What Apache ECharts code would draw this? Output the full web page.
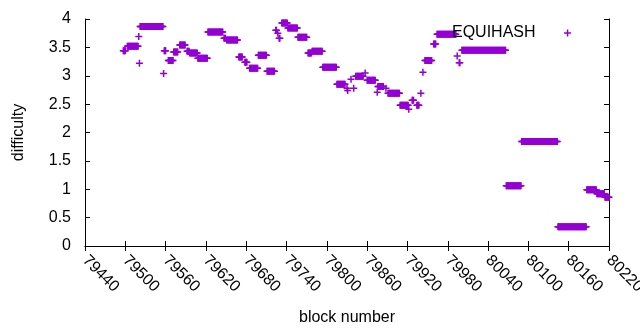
<!DOCTYPE html>
<html>
<head>
<meta charset="utf-8">
<script src="https://cdn.jsdelivr.net/npm/echarts@6/dist/echarts.min.js"></script>
<style>
  html, body { margin: 0; padding: 0; background: #fff; }
  #chart { width: 640px; height: 330px; }
</style>
</head>
<body>
<div id="chart"></div>
<script>
// runs of equal difficulty: first block, last block, value
const runStart = [79497, 79503, 79520, 79521, 79522, 79557, 79558, 79564, 79572, 79581,
  79592, 79596, 79608, 79623, 79647, 79651, 79669, 79678, 79685, 79698,
  79711, 79724, 79727, 79729, 79733, 79742, 79757, 79772, 79778, 79794,
  79815, 79830, 79831, 79836, 79840, 79843, 79857, 79860, 79875, 79876,
  79888, 79891, 79909, 79922, 79927, 79934, 79940, 79943, 79946, 79959,
  79964, 79994, 79997, 80001, 80067, 80090, 80144, 80187, 80202, 80214]
const runEnd = [79500, 79519, 79520, 79521, 79556, 79557, 79560, 79571, 79578, 79589,
  79595, 79607, 79622, 79645, 79649, 79667, 79674, 79681, 79697, 79710,
  79722, 79725, 79727, 79730, 79741, 79756, 79770, 79777, 79793, 79814,
  79827, 79830, 79831, 79836, 79840, 79854, 79857, 79872, 79875, 79884,
  79888, 79908, 79921, 79922, 79929, 79937, 79940, 79943, 79956, 79962,
  79992, 79994, 79998, 80066, 80089, 80143, 80186, 80201, 80213, 80220]
const runDifficulty = [3.44, 3.52, 3.69, 3.22, 3.87, 3.04, 3.44, 3.27, 3.42, 3.54,
  3.43, 3.40, 3.31, 3.77, 3.66, 3.63, 3.33, 3.24, 3.13, 3.36,
  3.08, 3.80, 3.75, 3.66, 3.93, 3.84, 3.68, 3.40, 3.43, 3.15,
  2.85, 2.78, 2.74, 2.94, 2.78, 2.99, 3.05, 2.92, 2.71, 2.81,
  2.78, 2.69, 2.48, 2.41, 2.57, 2.48, 2.69, 3.06, 3.27, 3.56,
  3.73, 3.35, 3.23, 3.45, 1.06, 1.84, 0.34, 0.99, 0.92, 0.86]

const seriesName = 'EQUIHASH'

// one point per block
const points = []
runStart.forEach((s, i) => {
  for (let b = s; b <= runEnd[i]; b++) points.push([b, runDifficulty[i]])
})

const plus = 'path://M2.75,0 h1.5 v2.75 h2.75 v1.5 h-2.75 v2.75 h-1.5 v-2.75 h-2.75 v-1.5 h2.75 Z'
const font = 'Liberation Sans, Arial, sans-serif'
const txt = { color: '#000', fontFamily: font, fontSize: 16 }

const axisBase = {
  axisLine: { show: true, lineStyle: { color: '#000', width: 1 } },
  axisTick: { show: true, inside: true, length: 5, lineStyle: { color: '#000' } },
  splitLine: { show: false }
}

const chart = echarts.init(document.getElementById('chart'), null, { renderer: 'canvas' })
chart.setOption({
  animation: false,
  backgroundColor: '#fff',
  grid: { left: 85, right: 31, top: 19, bottom: 84, outerBoundsMode: 'none', containLabel: false },
  legend: {
    data: [{ name: seriesName, icon: plus }],
    left: 447,
    top: 20,
    align: 'right',
    itemWidth: 54,
    itemHeight: 7,
    symbolKeepAspect: true,
    textStyle: txt,
    selectedMode: false
  },
  xAxis: [
    {
      ...axisBase,
      type: 'value',
      position: 'bottom',
      min: 79440,
      max: 80220,
      interval: 60,
      name: 'block number',
      nameLocation: 'middle',
      nameGap: 64,
      nameTextStyle: txt,
      axisLabel: { ...txt, rotate: -45, margin: 12, formatter: v => String(v) }
    },
    {
      ...axisBase,
      type: 'value',
      position: 'top',
      min: 79440,
      max: 80220,
      interval: 60,
      axisLabel: { show: false }
    }
  ],
  yAxis: [
    {
      ...axisBase,
      type: 'value',
      position: 'left',
      min: 0,
      max: 4,
      interval: 0.5,
      name: 'difficulty',
      nameLocation: 'middle',
      nameGap: 58,
      nameTextStyle: txt,
      axisLabel: { ...txt, margin: 14 }
    },
    {
      ...axisBase,
      type: 'value',
      position: 'right',
      min: 0,
      max: 4,
      interval: 0.5,
      axisLabel: { show: false }
    }
  ],
  series: [
    {
      name: seriesName,
      type: 'scatter',
      symbol: plus,
      symbolSize: 7,
      itemStyle: { color: '#9400d3', opacity: 1 },
      emphasis: { disabled: true },
      data: points
    }
  ]
})
</script>
</body>
</html>
